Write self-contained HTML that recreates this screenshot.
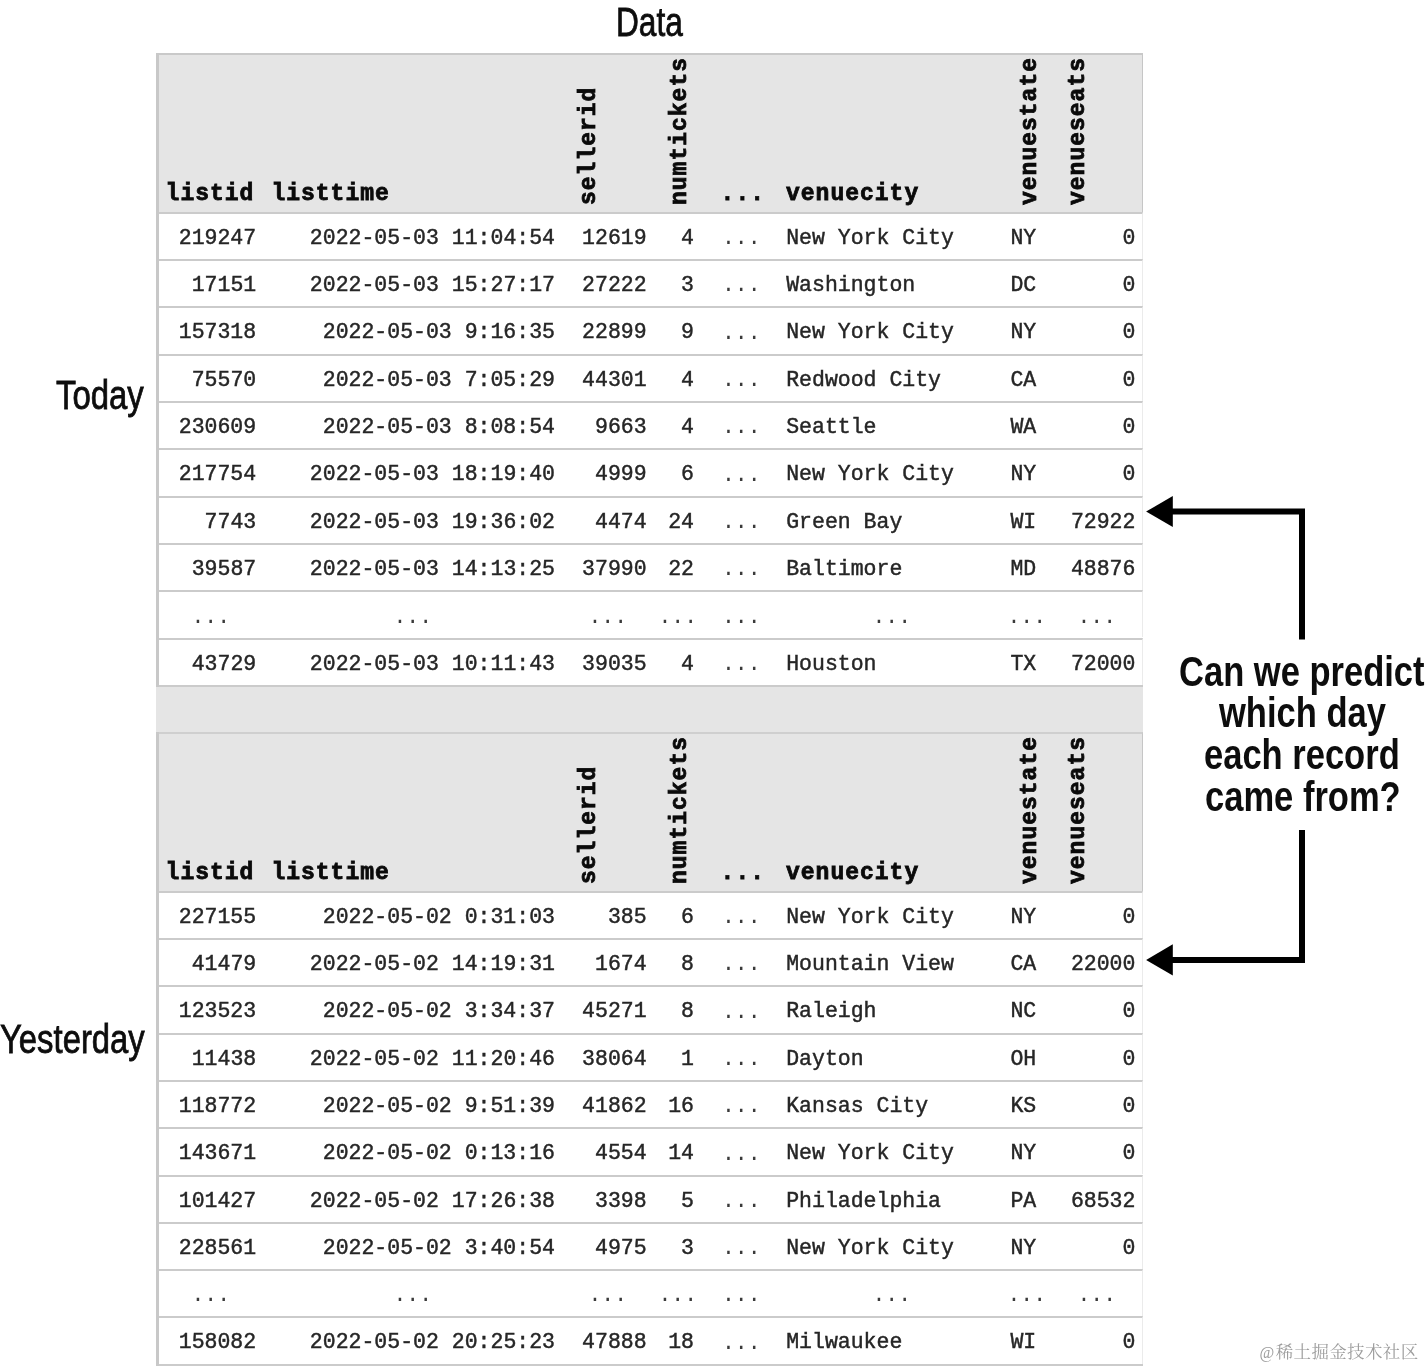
<!DOCTYPE html>
<html lang="en"><head><meta charset="utf-8"><title>Data</title>
<style>
html,body{margin:0;padding:0;background:#fff}
body{width:1425px;height:1368px;position:relative;overflow:hidden;font-family:"Liberation Mono",monospace}
.hd{position:absolute;left:155.6px;width:987.0px;background:#e5e5e5;border-top:2.6px solid #c9c9c9;border-left:3.2px solid #c8c8c8;border-right:1.5px solid #c6c6c6;box-sizing:border-box}
.h2{border-top:2.2px solid #cfcfcf}
.lb{position:absolute;left:155.6px;width:3.2px;background:#c8c8c8}
.rb{position:absolute;left:1141.2px;width:1.8px;background:#d2d2d2}
.r{position:absolute;left:155.6px;width:987.0px;border-left:3.2px solid #c8c8c8;border-right:1.5px solid #ebebeb;height:47.3px;background:#fff;border-top:2px solid #cbcbcb;box-sizing:border-box}
.ln{position:absolute;left:155.6px;width:987.0px;height:2px;background:#cbcbcb}
.c{position:absolute;top:0;height:45.2px;line-height:48.4px;font-size:21.5px;color:#262626;white-space:pre;-webkit-text-stroke:.45px #262626}
.d{-webkit-text-stroke:0;color:#3a3a3a;top:.4px}
.rr{transform:translateX(-100%)}
.e{transform:translateX(-50%)}
.h,.v{position:absolute;font-weight:bold;font-size:23.0px;letter-spacing:1.0px;color:#0a0a0a;line-height:0;white-space:pre;-webkit-text-stroke:.8px #0a0a0a}
.v{transform-origin:0 0;transform:rotate(-90deg)}
.s{position:absolute;font-family:"Liberation Sans",sans-serif;color:#0d0d0d;white-space:pre;line-height:0;transform-origin:0 0;-webkit-text-stroke:.8px #0d0d0d}
.q{font-weight:bold;-webkit-text-stroke:0}
.wm{position:absolute;font-family:"Liberation Serif","Noto Serif CJK SC",serif;color:#9d9d9d;font-size:17.5px;letter-spacing:.35px;line-height:0;white-space:pre}
.at{font-size:16px;margin-right:1px}
</style></head><body>
<div class="hd" style="top:686px;height:48px;border:0"></div>
<div class="hd" style="top:52.5px;height:160.3px"></div>
<span class="h" style="left:165.6px;top:193.86px">listid</span>
<span class="h" style="left:271.4px;top:193.86px">listtime</span>
<span class="h" style="left:720.6px;top:193.86px">...</span>
<span class="h" style="left:786.0px;top:193.86px">venuecity</span>
<span class="v" style="left:588.96px;top:205.2px">sellerid</span>
<span class="v" style="left:680.26px;top:205.2px">numtickets</span>
<span class="v" style="left:1029.76px;top:205.2px">venuestate</span>
<span class="v" style="left:1078.26px;top:205.2px">venueseats</span>
<div class="r" style="top:211.8px">
<span class="c rr" style="left:97.6px">219247</span>
<span class="c rr" style="left:396.4px">2022-05-03 11:04:54</span>
<span class="c rr" style="left:488.0px">12619</span>
<span class="c rr" style="left:535.4px">4</span>
<span class="c e d" style="left:582.7px">...</span>
<span class="c" style="left:627.6px">New York City</span>
<span class="c" style="left:851.8px">NY</span>
<span class="c rr" style="left:976.8px">0</span>
</div>
<div class="r" style="top:259.1px">
<span class="c rr" style="left:97.6px">17151</span>
<span class="c rr" style="left:396.4px">2022-05-03 15:27:17</span>
<span class="c rr" style="left:488.0px">27222</span>
<span class="c rr" style="left:535.4px">3</span>
<span class="c e d" style="left:582.7px">...</span>
<span class="c" style="left:627.6px">Washington</span>
<span class="c" style="left:851.8px">DC</span>
<span class="c rr" style="left:976.8px">0</span>
</div>
<div class="r" style="top:306.4px">
<span class="c rr" style="left:97.6px">157318</span>
<span class="c rr" style="left:396.4px">2022-05-03 9:16:35</span>
<span class="c rr" style="left:488.0px">22899</span>
<span class="c rr" style="left:535.4px">9</span>
<span class="c e d" style="left:582.7px">...</span>
<span class="c" style="left:627.6px">New York City</span>
<span class="c" style="left:851.8px">NY</span>
<span class="c rr" style="left:976.8px">0</span>
</div>
<div class="r" style="top:353.7px">
<span class="c rr" style="left:97.6px">75570</span>
<span class="c rr" style="left:396.4px">2022-05-03 7:05:29</span>
<span class="c rr" style="left:488.0px">44301</span>
<span class="c rr" style="left:535.4px">4</span>
<span class="c e d" style="left:582.7px">...</span>
<span class="c" style="left:627.6px">Redwood City</span>
<span class="c" style="left:851.8px">CA</span>
<span class="c rr" style="left:976.8px">0</span>
</div>
<div class="r" style="top:401.0px">
<span class="c rr" style="left:97.6px">230609</span>
<span class="c rr" style="left:396.4px">2022-05-03 8:08:54</span>
<span class="c rr" style="left:488.0px">9663</span>
<span class="c rr" style="left:535.4px">4</span>
<span class="c e d" style="left:582.7px">...</span>
<span class="c" style="left:627.6px">Seattle</span>
<span class="c" style="left:851.8px">WA</span>
<span class="c rr" style="left:976.8px">0</span>
</div>
<div class="r" style="top:448.3px">
<span class="c rr" style="left:97.6px">217754</span>
<span class="c rr" style="left:396.4px">2022-05-03 18:19:40</span>
<span class="c rr" style="left:488.0px">4999</span>
<span class="c rr" style="left:535.4px">6</span>
<span class="c e d" style="left:582.7px">...</span>
<span class="c" style="left:627.6px">New York City</span>
<span class="c" style="left:851.8px">NY</span>
<span class="c rr" style="left:976.8px">0</span>
</div>
<div class="r" style="top:495.6px">
<span class="c rr" style="left:97.6px">7743</span>
<span class="c rr" style="left:396.4px">2022-05-03 19:36:02</span>
<span class="c rr" style="left:488.0px">4474</span>
<span class="c rr" style="left:535.4px">24</span>
<span class="c e d" style="left:582.7px">...</span>
<span class="c" style="left:627.6px">Green Bay</span>
<span class="c" style="left:851.8px">WI</span>
<span class="c rr" style="left:976.8px">72922</span>
</div>
<div class="r" style="top:542.9px">
<span class="c rr" style="left:97.6px">39587</span>
<span class="c rr" style="left:396.4px">2022-05-03 14:13:25</span>
<span class="c rr" style="left:488.0px">37990</span>
<span class="c rr" style="left:535.4px">22</span>
<span class="c e d" style="left:582.7px">...</span>
<span class="c" style="left:627.6px">Baltimore</span>
<span class="c" style="left:851.8px">MD</span>
<span class="c rr" style="left:976.8px">48876</span>
</div>
<div class="r" style="top:590.2px">
<span class="c e d" style="left:52.2px">...</span>
<span class="c e d" style="left:254.2px">...</span>
<span class="c e d" style="left:449.2px">...</span>
<span class="c e d" style="left:519.2px">...</span>
<span class="c e d" style="left:582.7px">...</span>
<span class="c e d" style="left:733.2px">...</span>
<span class="c e d" style="left:868.2px">...</span>
<span class="c e d" style="left:938.2px">...</span>
</div>
<div class="r" style="top:637.5px">
<span class="c rr" style="left:97.6px">43729</span>
<span class="c rr" style="left:396.4px">2022-05-03 10:11:43</span>
<span class="c rr" style="left:488.0px">39035</span>
<span class="c rr" style="left:535.4px">4</span>
<span class="c e d" style="left:582.7px">...</span>
<span class="c" style="left:627.6px">Houston</span>
<span class="c" style="left:851.8px">TX</span>
<span class="c rr" style="left:976.8px">72000</span>
</div>
<div class="ln" style="top:684.8px"></div>
<div class="hd h2" style="top:732.4px;height:159.3px"></div>
<span class="h" style="left:165.6px;top:872.76px">listid</span>
<span class="h" style="left:271.4px;top:872.76px">listtime</span>
<span class="h" style="left:720.6px;top:872.76px">...</span>
<span class="h" style="left:786.0px;top:872.76px">venuecity</span>
<span class="v" style="left:588.96px;top:884.1px">sellerid</span>
<span class="v" style="left:680.26px;top:884.1px">numtickets</span>
<span class="v" style="left:1029.76px;top:884.1px">venuestate</span>
<span class="v" style="left:1078.26px;top:884.1px">venueseats</span>
<div class="r" style="top:890.7px">
<span class="c rr" style="left:97.6px">227155</span>
<span class="c rr" style="left:396.4px">2022-05-02 0:31:03</span>
<span class="c rr" style="left:488.0px">385</span>
<span class="c rr" style="left:535.4px">6</span>
<span class="c e d" style="left:582.7px">...</span>
<span class="c" style="left:627.6px">New York City</span>
<span class="c" style="left:851.8px">NY</span>
<span class="c rr" style="left:976.8px">0</span>
</div>
<div class="r" style="top:938.0px">
<span class="c rr" style="left:97.6px">41479</span>
<span class="c rr" style="left:396.4px">2022-05-02 14:19:31</span>
<span class="c rr" style="left:488.0px">1674</span>
<span class="c rr" style="left:535.4px">8</span>
<span class="c e d" style="left:582.7px">...</span>
<span class="c" style="left:627.6px">Mountain View</span>
<span class="c" style="left:851.8px">CA</span>
<span class="c rr" style="left:976.8px">22000</span>
</div>
<div class="r" style="top:985.3px">
<span class="c rr" style="left:97.6px">123523</span>
<span class="c rr" style="left:396.4px">2022-05-02 3:34:37</span>
<span class="c rr" style="left:488.0px">45271</span>
<span class="c rr" style="left:535.4px">8</span>
<span class="c e d" style="left:582.7px">...</span>
<span class="c" style="left:627.6px">Raleigh</span>
<span class="c" style="left:851.8px">NC</span>
<span class="c rr" style="left:976.8px">0</span>
</div>
<div class="r" style="top:1032.6px">
<span class="c rr" style="left:97.6px">11438</span>
<span class="c rr" style="left:396.4px">2022-05-02 11:20:46</span>
<span class="c rr" style="left:488.0px">38064</span>
<span class="c rr" style="left:535.4px">1</span>
<span class="c e d" style="left:582.7px">...</span>
<span class="c" style="left:627.6px">Dayton</span>
<span class="c" style="left:851.8px">OH</span>
<span class="c rr" style="left:976.8px">0</span>
</div>
<div class="r" style="top:1079.9px">
<span class="c rr" style="left:97.6px">118772</span>
<span class="c rr" style="left:396.4px">2022-05-02 9:51:39</span>
<span class="c rr" style="left:488.0px">41862</span>
<span class="c rr" style="left:535.4px">16</span>
<span class="c e d" style="left:582.7px">...</span>
<span class="c" style="left:627.6px">Kansas City</span>
<span class="c" style="left:851.8px">KS</span>
<span class="c rr" style="left:976.8px">0</span>
</div>
<div class="r" style="top:1127.2px">
<span class="c rr" style="left:97.6px">143671</span>
<span class="c rr" style="left:396.4px">2022-05-02 0:13:16</span>
<span class="c rr" style="left:488.0px">4554</span>
<span class="c rr" style="left:535.4px">14</span>
<span class="c e d" style="left:582.7px">...</span>
<span class="c" style="left:627.6px">New York City</span>
<span class="c" style="left:851.8px">NY</span>
<span class="c rr" style="left:976.8px">0</span>
</div>
<div class="r" style="top:1174.5px">
<span class="c rr" style="left:97.6px">101427</span>
<span class="c rr" style="left:396.4px">2022-05-02 17:26:38</span>
<span class="c rr" style="left:488.0px">3398</span>
<span class="c rr" style="left:535.4px">5</span>
<span class="c e d" style="left:582.7px">...</span>
<span class="c" style="left:627.6px">Philadelphia</span>
<span class="c" style="left:851.8px">PA</span>
<span class="c rr" style="left:976.8px">68532</span>
</div>
<div class="r" style="top:1221.8px">
<span class="c rr" style="left:97.6px">228561</span>
<span class="c rr" style="left:396.4px">2022-05-02 3:40:54</span>
<span class="c rr" style="left:488.0px">4975</span>
<span class="c rr" style="left:535.4px">3</span>
<span class="c e d" style="left:582.7px">...</span>
<span class="c" style="left:627.6px">New York City</span>
<span class="c" style="left:851.8px">NY</span>
<span class="c rr" style="left:976.8px">0</span>
</div>
<div class="r" style="top:1269.1px">
<span class="c e d" style="left:52.2px">...</span>
<span class="c e d" style="left:254.2px">...</span>
<span class="c e d" style="left:449.2px">...</span>
<span class="c e d" style="left:519.2px">...</span>
<span class="c e d" style="left:582.7px">...</span>
<span class="c e d" style="left:733.2px">...</span>
<span class="c e d" style="left:868.2px">...</span>
<span class="c e d" style="left:938.2px">...</span>
</div>
<div class="r" style="top:1316.4px">
<span class="c rr" style="left:97.6px">158082</span>
<span class="c rr" style="left:396.4px">2022-05-02 20:25:23</span>
<span class="c rr" style="left:488.0px">47888</span>
<span class="c rr" style="left:535.4px">18</span>
<span class="c e d" style="left:582.7px">...</span>
<span class="c" style="left:627.6px">Milwaukee</span>
<span class="c" style="left:851.8px">WI</span>
<span class="c rr" style="left:976.8px">0</span>
</div>
<div class="ln" style="top:1363.7px"></div>
<div class="lb" style="top:52.5px;height:634.3px"></div>
<div class="lb" style="top:732.4px;height:633.3px"></div>
<span class="s " style="left:616.0px;top:21.54px;font-size:40px;transform:scaleX(0.79);">Data</span>
<span class="s " style="left:56.3px;top:395.47px;font-size:40.5px;transform:scaleX(0.812);">Today</span>
<span class="s " style="left:0.2px;top:1038.77px;font-size:40.5px;transform:scaleX(0.81);">Yesterday</span>
<span class="s q" style="left:1179px;top:671.95px;font-size:42px;transform:scaleX(0.822);">Can we predict</span>
<span class="s q" style="left:1218.5px;top:712.65px;font-size:42px;transform:scaleX(0.822);">which day</span>
<span class="s q" style="left:1204px;top:754.65px;font-size:42px;transform:scaleX(0.822);">each record</span>
<span class="s q" style="left:1204.5px;top:796.95px;font-size:42px;transform:scaleX(0.822);">came from?</span>
<svg style="position:absolute;left:0;top:0" width="1425" height="1368" viewBox="0 0 1425 1368">
<g fill="none" stroke="#000" stroke-width="6">
<path d="M1170 511.6 H1302 V639.6"/>
<path d="M1170 959.9 H1302 V830.1"/>
</g>
<path d="M1146.1 511.6 L1172.8 496.1 V527.1 Z" fill="#000"/>
<path d="M1146.1 959.9 L1172.8 944.3 V975.5 Z" fill="#000"/>
</svg>
<span class="wm" style="left:1259.6px;top:1351.8px"><span class="at">@</span>稀土掘金技术社区</span>
</body></html>
